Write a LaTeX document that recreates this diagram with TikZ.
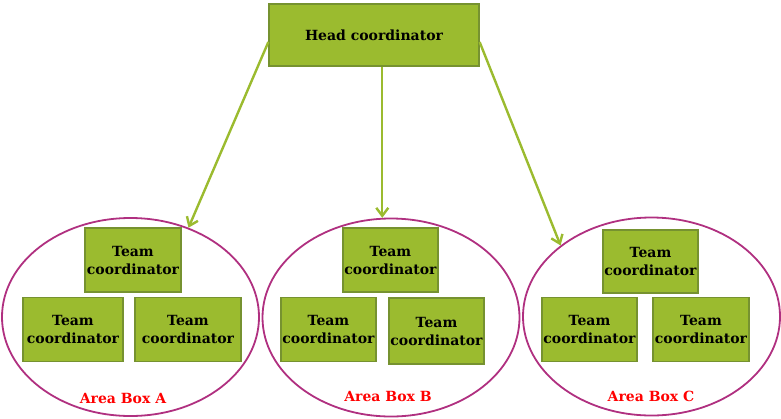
\documentclass[tikz,border=0pt]{standalone}
\usepackage{fontspec}
\setmainfont{DejaVu Serif}
\usetikzlibrary{arrows.meta,shapes.geometric}
\definecolor{boxgreen}{RGB}{155,187,47}
\definecolor{boxedge}{RGB}{118,146,48}
\definecolor{areaedge}{RGB}{176,48,128}
\tikzset{
	coordbox/.style={draw=boxedge,line width=1.3pt,fill=boxgreen,align=center,
		font=\bfseries\fontsize{14}{18}\selectfont,
		minimum width=96pt,minimum height=64pt,inner sep=0pt},
	areaoval/.style={draw=areaedge,line width=1.8pt,ellipse,
		minimum width=257pt,minimum height=198pt,inner sep=0pt},
	arealabel/.style={text=red,font=\bfseries\fontsize{14}{16}\selectfont},
	feed/.style={draw=boxgreen,line width=2.4pt,-{Straight Barb[length=8pt,width=12pt]}}
}
\begin{document}
\begin{tikzpicture}
	\useasboundingbox (0pt,0pt) rectangle (781pt,-418pt);
	\node[coordbox,minimum width=210pt,minimum height=62pt] (head) at (374pt,-35pt) {Head coordinator};
	\node[areaoval] (areaA) at (130.5pt,-317pt) {};
	\node[areaoval] (areaB) at (391pt,-317.5pt) {};
	\node[areaoval] (areaC) at (651.5pt,-316.5pt) {};
	\node[coordbox] (topA) at (133pt,-260pt) {Team\\coordinator};
	\node[coordbox,minimum width=100pt] (leftA) at (73pt,-329.5pt) {Team\\coordinator};
	\node[coordbox,minimum width=106pt] (rightA) at (188pt,-329.5pt) {Team\\coordinator};
	\node[coordbox,minimum width=95pt] (topB) at (390.5pt,-260pt) {Team\\coordinator};
	\node[coordbox,minimum width=95pt] (leftB) at (328.5pt,-329.5pt) {Team\\coordinator};
	\node[coordbox,minimum width=95pt,minimum height=66pt] (rightB) at (436.5pt,-331pt) {Team\\coordinator};
	\node[coordbox,minimum width=95pt,minimum height=63pt] (topC) at (650.5pt,-261.5pt) {Team\\coordinator};
	\node[coordbox,minimum width=95pt] (leftC) at (589.5pt,-329.5pt) {Team\\coordinator};
	\node[coordbox] (rightC) at (701pt,-329.5pt) {Team\\coordinator};
	\node[arealabel] (labelA) at (123pt,-398pt) {Area Box A};
	\node[arealabel] (labelB) at (388pt,-396pt) {Area Box B};
	\node[arealabel] (labelC) at (651pt,-396pt) {Area Box C};
	\draw[feed] ([yshift=-7pt]head.west) -- (areaA.57);
	\draw[feed] (head.south -| areaB.95) -- (areaB.95);
	\draw[feed] ([yshift=-7pt]head.east) -- (areaC.142);
\end{tikzpicture}
\end{document}
